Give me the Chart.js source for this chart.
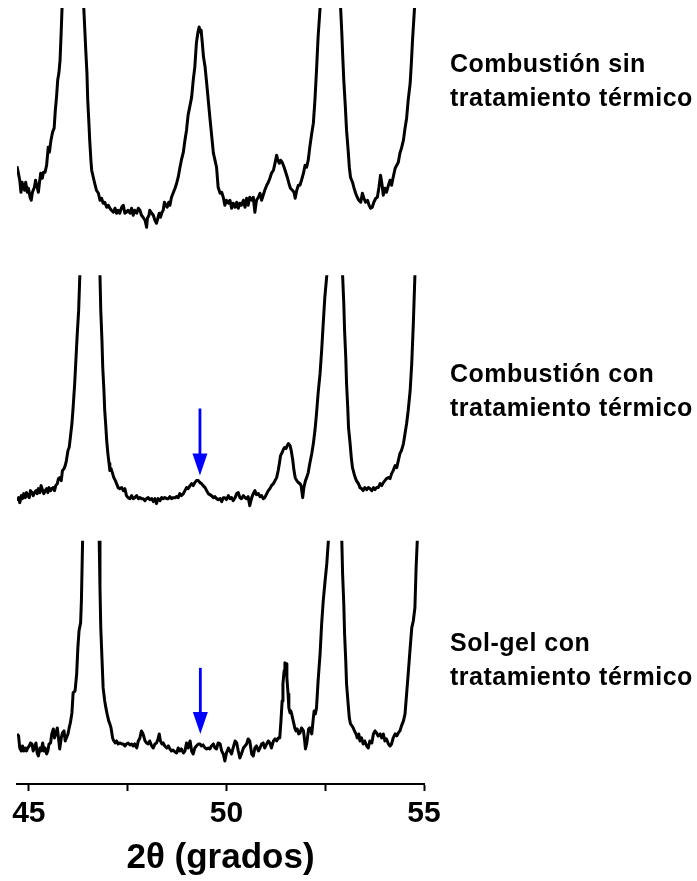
<!DOCTYPE html>
<html>
<head>
<meta charset="utf-8">
<script src="https://cdn.jsdelivr.net/npm/chart.js@4/dist/chart.umd.min.js"></script>
<style>
  html, body { margin: 0; padding: 0; background: #fff; }
  #wrap { position: relative; width: 697px; height: 881px; overflow: hidden; }
  canvas { position: absolute; left: 0; top: 0; }
  .lbl { position: absolute; left: 450px; font: bold 25px "Liberation Sans", Arial, Helvetica, sans-serif;
         line-height: 34px; letter-spacing: 0.5px; color: #000; white-space: nowrap; }
</style>
</head>
<body>
<div id="wrap">
  <canvas id="c" width="697" height="881"></canvas>
  <div class="lbl" style="top:46px">Combustión sin<br>tratamiento térmico</div>
  <div class="lbl" style="top:356px">Combustión con<br>tratamiento térmico</div>
  <div class="lbl" style="top:625px">Sol-gel con<br>tratamiento térmico</div>
</div>
<script>
// ---- Data (2θ in degrees, intensity in a.u. relative to each pattern's baseline) ----
const seriesNames = ["Combustión sin tratamiento térmico", "Combustión con tratamiento térmico", "Sol-gel con tratamiento térmico"];

const twoTheta1 = [44.70,44.73,44.77,44.80,44.83,44.86,44.89,44.92,44.96,44.99,45.03,45.06,45.09,45.14,45.17,45.20,45.24,45.27,45.30,45.34,45.37,45.41,45.45,45.49,45.52,45.56,45.60,45.64,45.67,45.70,45.73,45.76,45.79,45.82,45.84,46.11,
46.39,46.42,46.44,46.47,46.49,46.52,46.54,46.57,46.59,46.63,46.66,46.71,46.76,46.80,46.84,46.88,46.92,46.97,47.01,47.05,47.09,47.14,47.18,47.22,47.26,47.30,47.35,47.39,47.43,47.47,47.51,47.56,47.60,47.64,47.68,47.73,47.77,47.81,47.85,47.89,47.94,47.98,48.00,48.04,48.06,48.11,48.15,48.19,48.23,48.27,48.30,48.33,48.37,48.40,48.43,48.47,48.50,48.54,48.57,48.61,48.65,48.70,48.74,48.78,48.82,48.86,48.91,48.95,48.99,49.03,49.08,49.12,49.16,49.20,49.24,49.28,49.31,49.34,49.36,49.39,49.42,49.46,49.50,49.54,49.58,49.62,49.67,49.71,49.75,49.79,49.84,49.88,49.92,49.96,50.00,50.05,50.09,50.13,50.17,50.22,50.26,50.30,50.34,50.38,50.43,50.47,50.51,50.55,50.59,50.64,50.68,50.72,50.76,50.81,50.85,50.89,50.93,50.97,51.02,51.06,51.10,51.14,51.19,51.23,51.27,51.30,51.34,51.37,51.41,51.46,51.50,51.54,51.58,51.62,51.67,51.71,51.74,51.78,51.82,51.86,51.90,51.95,51.99,52.03,52.07,52.11,52.16,52.20,52.24,52.28,52.32,52.37,52.63,
52.89,52.92,52.94,52.97,53.01,53.04,53.08,53.11,53.14,53.19,53.23,53.27,53.31,53.35,53.40,53.44,53.48,53.52,53.57,53.61,53.65,53.69,53.73,53.78,53.82,53.86,53.90,53.94,53.97,54.01,54.05,54.10,54.14,54.18,54.22,54.27,54.31,54.35,54.39,54.43,54.48,54.52,54.56,54.60,54.65,54.68,54.71,54.76,55.00];
const intensity1 = [64,58,50,38,48,43,40,48,38,42,33,30,38,43,50,45,38,48,57,52,58,58,65,83,78,90,98,102,120,133,150,157,170,200,222,420,
222,197,180,157,130,107,90,70,60,53,48,40,37,30,32,27,28,23,25,22,20,18,22,17,20,17,23,25,17,18,20,17,22,15,20,17,22,20,15,13,10,3,12,15,20,17,15,10,7,13,17,13,18,20,28,25,23,28,25,33,37,42,47,53,62,70,78,90,100,115,125,133,150,163,187,198,203,198,200,187,173,163,147,130,113,97,77,70,63,43,37,38,33,25,30,27,30,22,27,23,28,22,27,25,30,23,32,25,33,30,33,18,30,33,37,30,35,40,45,48,52,57,60,67,75,70,67,70,68,63,58,53,47,42,40,38,32,40,45,45,50,57,65,63,70,83,97,107,130,160,193,222,420,
222,197,177,150,123,100,80,63,53,48,42,37,33,30,28,37,32,28,30,25,22,23,28,32,33,43,55,45,35,42,38,45,50,45,53,62,65,68,77,82,90,102,112,130,147,167,190,222,420];

const twoTheta2 = [44.70,44.74,44.77,44.81,44.84,44.87,44.91,44.94,44.97,45.01,45.04,45.08,45.11,45.14,45.18,45.21,45.24,45.28,45.31,45.35,45.38,45.41,45.45,45.48,45.51,45.55,45.58,45.62,45.65,45.68,45.72,45.75,45.78,45.82,45.85,45.89,45.92,45.95,45.99,46.02,46.05,46.09,46.12,46.16,46.19,46.22,46.26,46.29,46.55,
46.80,46.82,46.85,46.87,46.90,46.92,46.95,46.97,47.00,47.03,47.05,47.08,47.12,47.15,47.19,47.22,47.26,47.30,47.35,47.39,47.43,47.47,47.51,47.56,47.60,47.64,47.68,47.73,47.77,47.81,47.85,47.89,47.94,47.98,48.02,48.06,48.11,48.15,48.19,48.23,48.27,48.32,48.36,48.40,48.44,48.49,48.53,48.57,48.61,48.65,48.70,48.74,48.78,48.82,48.86,48.91,48.95,48.99,49.03,49.08,49.12,49.16,49.20,49.24,49.29,49.33,49.37,49.41,49.46,49.50,49.54,49.58,49.62,49.67,49.71,49.75,49.79,49.84,49.88,49.92,49.96,50.00,50.05,50.09,50.13,50.17,50.22,50.26,50.30,50.34,50.38,50.43,50.47,50.51,50.55,50.59,50.64,50.68,50.72,50.76,50.81,50.85,50.89,50.93,50.97,51.02,51.06,51.10,51.14,51.19,51.23,51.27,51.31,51.34,51.37,51.41,51.44,51.47,51.51,51.54,51.57,51.61,51.64,51.68,51.71,51.74,51.78,51.82,51.86,51.89,51.93,51.96,52.00,52.03,52.07,52.11,52.16,52.20,52.24,52.28,52.32,52.37,52.41,52.45,52.49,52.54,52.74,
52.94,52.97,52.99,53.02,53.04,53.07,53.09,53.13,53.16,53.19,53.23,53.26,53.29,53.34,53.38,53.42,53.46,53.50,53.55,53.59,53.63,53.68,53.72,53.76,53.80,53.84,53.89,53.93,53.97,54.01,54.05,54.10,54.14,54.18,54.22,54.27,54.31,54.35,54.39,54.43,54.48,54.52,54.56,54.60,54.65,54.69,54.73,54.77,55.00];
const intensity2 = [10,13,8,15,12,17,13,18,15,13,20,18,15,18,20,17,22,18,25,20,17,20,22,18,23,20,22,23,20,25,27,32,33,30,40,42,45,50,60,63,73,87,103,127,150,173,200,235,500,
235,200,170,143,120,100,83,70,57,47,40,42,37,33,30,27,23,22,23,20,22,15,13,12,15,12,13,15,12,13,12,12,10,12,13,11,12,9,12,7,12,10,13,12,13,12,12,14,12,13,13,14,13,17,15,17,20,23,22,25,27,25,28,30,30,28,27,25,23,20,17,16,15,13,14,12,11,12,9,13,13,11,15,12,13,10,13,17,18,13,12,15,13,12,14,5,13,17,20,16,17,14,15,12,13,17,20,22,25,27,30,33,40,47,55,58,61,63,62,65,67,65,60,50,40,33,30,28,27,25,13,23,30,33,38,47,57,67,80,97,117,137,160,187,213,235,500,
235,207,180,153,127,103,83,67,53,43,37,33,30,27,23,22,20,23,21,23,22,20,23,21,23,23,27,25,28,30,32,33,32,37,40,45,43,50,57,60,67,77,87,100,120,147,187,235,500];

const twoTheta3 = [44.70,44.74,44.77,44.81,44.84,44.87,44.91,44.94,44.97,45.01,45.04,45.08,45.11,45.14,45.18,45.21,45.24,45.28,45.31,45.35,45.38,45.41,45.45,45.48,45.51,45.55,45.58,45.62,45.65,45.68,45.72,45.75,45.78,45.82,45.85,45.89,45.92,45.95,45.99,46.02,46.05,46.09,46.12,46.17,46.21,46.24,46.27,46.31,46.33,46.36,46.57,
46.78,46.80,46.82,46.85,46.88,46.92,46.95,46.98,47.02,47.05,47.08,47.12,47.15,47.19,47.22,47.26,47.30,47.35,47.39,47.43,47.47,47.51,47.56,47.60,47.64,47.68,47.73,47.77,47.81,47.85,47.89,47.94,47.98,48.02,48.06,48.11,48.15,48.19,48.23,48.27,48.30,48.33,48.37,48.40,48.44,48.49,48.53,48.57,48.61,48.65,48.70,48.74,48.78,48.82,48.86,48.91,48.95,48.99,49.03,49.08,49.12,49.16,49.20,49.24,49.29,49.33,49.37,49.41,49.46,49.50,49.54,49.58,49.62,49.67,49.71,49.75,49.79,49.84,49.88,49.92,49.96,50.00,50.05,50.09,50.13,50.17,50.22,50.26,50.30,50.34,50.38,50.43,50.47,50.51,50.55,50.59,50.64,50.68,50.72,50.76,50.81,50.85,50.89,50.93,50.97,51.02,51.06,51.10,51.14,51.19,51.23,51.27,51.31,51.35,51.38,51.41,51.43,51.46,51.48,51.51,51.53,51.56,51.58,51.61,51.63,51.65,51.69,51.73,51.76,51.79,51.83,51.86,51.90,51.95,51.98,52.00,52.03,52.05,52.08,52.11,52.16,52.20,52.22,52.25,52.28,52.32,52.37,52.41,52.45,52.49,52.54,52.58,52.75,
52.92,52.94,52.97,52.99,53.02,53.04,53.08,53.11,53.14,53.18,53.21,53.24,53.28,53.31,53.35,53.38,53.42,53.46,53.50,53.55,53.59,53.63,53.68,53.72,53.76,53.80,53.84,53.89,53.93,53.97,54.01,54.05,54.10,54.14,54.18,54.22,54.27,54.31,54.35,54.39,54.43,54.48,54.52,54.56,54.60,54.65,54.69,54.73,54.77,54.80,54.83,55.00];
const intensity3 = [30,28,16,13,18,13,16,13,16,18,21,20,13,16,21,11,8,16,13,21,13,16,10,13,20,21,30,35,26,30,36,26,15,26,31,33,23,26,30,36,41,51,71,73,90,116,133,141,163,223,500,
223,176,136,106,76,63,56,50,43,40,36,26,23,21,23,20,21,20,20,18,20,21,19,20,18,20,16,23,26,33,30,23,21,20,23,18,16,20,21,25,30,23,20,21,18,16,18,15,13,14,12,11,16,13,15,11,13,21,16,23,13,10,16,18,20,20,18,19,16,15,16,15,18,20,16,15,21,20,13,10,3,11,16,13,10,16,23,21,13,6,10,16,18,20,25,23,10,8,16,18,13,16,20,21,16,20,23,21,16,23,25,23,26,26,43,63,80,93,101,100,86,70,56,51,53,50,43,36,33,35,30,31,36,33,23,15,20,26,35,36,30,46,53,50,56,83,110,140,163,180,200,223,500,
223,190,160,130,103,80,60,46,40,38,36,33,30,26,30,23,26,20,23,18,16,23,21,30,33,31,28,30,26,30,23,25,20,18,20,26,30,28,31,33,38,43,50,70,90,116,136,143,156,196,223,500];

const verticalOffsets = [553, 273, 20];   // stacking offset of each pattern (a.u.)
const displayCeiling = [222, 235, 223];  // intensity where each pattern is cut off (a.u.)
const xTicks = [45, 47.5, 50, 52.5, 55];
const xTickLabels = ["45", "", "50", "", "55"];
const arrowMarks = [ // blue arrows: pattern index, 2θ, tail & tip intensity (a.u.)
  { pattern: 1, theta: 49.33, from: 102, to: 35 },
  { pattern: 2, theta: 49.34, from: 96, to: 30 }
];

const FONT = '"Liberation Sans", Arial, Helvetica, sans-serif';
const thetas = [twoTheta1, twoTheta2, twoTheta3];
const intens = [intensity1, intensity2, intensity3];

const datasets = thetas.map((tt, k) => ({
  label: seriesNames[k],
  data: tt.map((t, i) => ({ x: t, y: intens[k][i] + verticalOffsets[k] })),
  borderColor: '#000',
  borderWidth: 3,
  pointRadius: 0,
  tension: 0,
  fill: false,
  borderJoinStyle: 'round'
}));

const bandClip = {
  id: 'bandClip',
  beforeDatasetDraw(chart, args) {
    const k = args.index;
    const ys = chart.scales.y;
    const yTop = ys.getPixelForValue(displayCeiling[k] + verticalOffsets[k]);
    const a = chart.chartArea;
    const ctx = chart.ctx;
    ctx.save();
    ctx.beginPath();
    ctx.rect(a.left - 2, Math.max(a.top, yTop), a.right - a.left + 4, a.bottom - Math.max(a.top, yTop));
    ctx.clip();
  },
  afterDatasetDraw(chart) { chart.ctx.restore(); }
};

const arrows = {
  id: 'arrows',
  afterDatasetsDraw(chart) {
    const ctx = chart.ctx, xs = chart.scales.x, ys = chart.scales.y;
    ctx.save();
    ctx.strokeStyle = '#0000ff';
    ctx.fillStyle = '#0000ff';
    arrowMarks.forEach(m => {
      const x = xs.getPixelForValue(m.theta);
      const y0 = ys.getPixelForValue(m.from + verticalOffsets[m.pattern]);
      const y1 = ys.getPixelForValue(m.to + verticalOffsets[m.pattern]);
      const head = 22, hw = 7.5;
      ctx.lineWidth = 2.8;
      ctx.beginPath();
      ctx.moveTo(x, y0);
      ctx.lineTo(x, y1 - head + 1);
      ctx.stroke();
      ctx.beginPath();
      ctx.moveTo(x - hw, y1 - head);
      ctx.lineTo(x + hw, y1 - head);
      ctx.lineTo(x, y1);
      ctx.closePath();
      ctx.fill();
    });
    ctx.restore();
  }
};

new Chart(document.getElementById('c'), {
  type: 'line',
  data: { datasets },
  options: {
    responsive: false,
    animation: false,
    devicePixelRatio: 1,
    layout: { padding: { left: 17, right: 273, top: 8, bottom: 2 } },
    plugins: { legend: { display: false }, tooltip: { enabled: false } },
    scales: {
      x: {
        type: 'linear',
        min: 44.70,
        max: 55,
        afterBuildTicks: s => { s.ticks = xTicks.map(v => ({ value: v })); },
        ticks: {
          autoSkip: false,
          maxRotation: 0,
          padding: 5,
          color: '#000',
          font: { family: FONT, size: 30, weight: 'bold' },
          callback: (v, i) => xTickLabels[i]
        },
        grid: { drawOnChartArea: false, drawTicks: true, tickLength: 7, tickWidth: 2, tickColor: '#000' },
        border: { display: true, color: '#000', width: 2 },
        title: {
          display: true,
          text: '2θ (grados)',
          color: '#000',
          font: { family: FONT, size: 35, weight: 'bold' },
          padding: { top: 0, bottom: 0 }
        }
      },
      y: {
        display: false,
        min: 0,
        max: 775
      }
    }
  },
  plugins: [bandClip, arrows]
});
</script>
</body>
</html>
